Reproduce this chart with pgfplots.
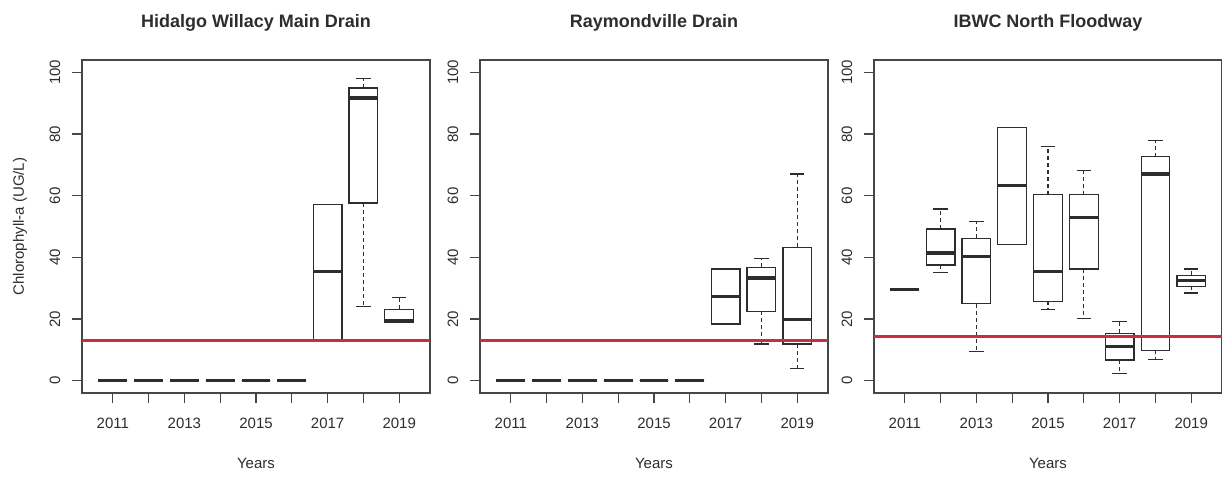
\documentclass[border=0pt]{standalone}
\usepackage{pgfplots}
\pgfplotsset{compat=1.18}
\usepgfplotslibrary{statistics}
\usepackage{fontspec}
\setmainfont{Liberation Sans}

\definecolor{inkgray}{RGB}{45,45,45}
\definecolor{axgray}{RGB}{70,70,70}
\definecolor{refred}{RGB}{200,45,65}

% one box: position, lower whisker, lower quartile, median, upper quartile, upper whisker
\newcommand{\bx}[6]{%
  \addplot[boxplot prepared={draw position=#1, lower whisker=#2,
    lower quartile=#3, median=#4, upper quartile=#5, upper whisker=#6}]
    coordinates {};}

\pgfplotsset{
  panel/.style={
    scale only axis, width=174pt, height=166.5pt,
    xmin=0.14, xmax=9.86, ymin=-4, ymax=104,
    axis line style={axgray, line width=0.55pt},
    tick style={axgray, line width=0.55pt},
    tick align=outside, major tick length=5pt,
    xtick pos=left, ytick pos=left,
    xtick={1,...,9},
    xticklabels={2011,,2013,,2015,,2017,,2019},
    ytick={0,20,40,60,80,100},
    /pgf/number format/assume math mode=true,
    font=\fontsize{7.5}{9}\selectfont,
    tick label style={inkgray, font=\fontsize{7.5}{9}\selectfont},
    xticklabel style={anchor=center, yshift=-10pt},
    yticklabel style={rotate=90, anchor=center, yshift=8.5pt},
    every axis x label/.style={at={(axis description cs:0.5,0)}, anchor=center,
      yshift=-35pt, inkgray, font=\fontsize{7.5}{9}\selectfont},
    xlabel={Years},
    title style={anchor=center, yshift=12.5pt, inkgray,
      font=\fontsize{9}{11}\bfseries\selectfont},
    boxplot/draw direction=y,
    boxplot/box extend=0.8,
    boxplot/whisker extend=0.4,
    boxplot/every median/.style={line width=1.6pt},
    boxplot/draw/lower whisker/.code={%
      \draw[/pgfplots/boxplot/every whisker/.try, dash pattern=on 2pt off 1.5pt]
        (boxplot cs:\pgfplotsboxplotvalue{lower quartile}) --
        (boxplot cs:\pgfplotsboxplotvalue{lower whisker});
      \draw[/pgfplots/boxplot/every whisker/.try]
        (boxplot whisker cs:\pgfplotsboxplotvalue{lower whisker},0) --
        (boxplot whisker cs:\pgfplotsboxplotvalue{lower whisker},1);
    },
    boxplot/draw/upper whisker/.code={%
      \draw[/pgfplots/boxplot/every whisker/.try, dash pattern=on 2pt off 1.5pt]
        (boxplot cs:\pgfplotsboxplotvalue{upper quartile}) --
        (boxplot cs:\pgfplotsboxplotvalue{upper whisker});
      \draw[/pgfplots/boxplot/every whisker/.try]
        (boxplot whisker cs:\pgfplotsboxplotvalue{upper whisker},0) --
        (boxplot whisker cs:\pgfplotsboxplotvalue{upper whisker},1);
    },
    every axis plot/.append style={draw=inkgray, line width=0.6pt, solid},
  },
  guide/.style={draw=refred, line width=1.5pt},
}

\begin{document}
\begin{tikzpicture}[x=1pt,y=1pt]
\path[use as bounding box] (0,0) rectangle (611,238.5);

% ---- Hidalgo Willacy Main Drain ----
\begin{axis}[panel, at={(41pt,42pt)}, anchor=south west,
  title={Hidalgo Willacy Main Drain}]
\bx{1}{0}{0}{0}{0}{0}
\bx{2}{0}{0}{0}{0}{0}
\bx{3}{0}{0}{0}{0}{0}
\bx{4}{0}{0}{0}{0}{0}
\bx{5}{0}{0}{0}{0}{0}
\bx{6}{0}{0}{0}{0}{0}
\bx{7}{13}{13}{35.4}{57.1}{57.1}
\bx{8}{24.0}{57.6}{91.7}{94.9}{98.1}
\bx{9}{19.0}{19.0}{19.5}{23.2}{27.0}
\addplot[guide] coordinates {(0.14,13) (9.86,13)};
\end{axis}

% ---- Raymondville Drain ----
\begin{axis}[panel, at={(240pt,42pt)}, anchor=south west,
  title={Raymondville Drain}]
\bx{1}{0}{0}{0}{0}{0}
\bx{2}{0}{0}{0}{0}{0}
\bx{3}{0}{0}{0}{0}{0}
\bx{4}{0}{0}{0}{0}{0}
\bx{5}{0}{0}{0}{0}{0}
\bx{6}{0}{0}{0}{0}{0}
\bx{7}{18.4}{18.4}{27.2}{36.2}{36.2}
\bx{8}{11.9}{22.5}{33.3}{36.8}{39.7}
\bx{9}{4.0}{11.9}{19.8}{43.2}{67.0}
\addplot[guide] coordinates {(0.14,13) (9.86,13)};
\end{axis}

% ---- IBWC North Floodway ----
\begin{axis}[panel, at={(437pt,42pt)}, anchor=south west,
  title={IBWC North Floodway}]
\bx{1}{29.6}{29.6}{29.6}{29.6}{29.6}
\bx{2}{35.1}{37.5}{41.4}{49.2}{55.7}
\bx{3}{9.4}{24.9}{40.3}{46.2}{51.6}
\bx{4}{44.1}{44.1}{63.3}{82.0}{82.0}
\bx{5}{23.2}{25.7}{35.4}{60.3}{76.0}
\bx{6}{20.2}{36.2}{52.8}{60.3}{68.1}
\bx{7}{2.4}{6.7}{11.0}{15.3}{19.2}
\bx{8}{6.9}{9.9}{67.0}{72.6}{78.0}
\bx{9}{28.4}{30.6}{32.4}{34.2}{36.2}
\addplot[guide] coordinates {(0.14,14.3) (9.86,14.3)};
\end{axis}

\node[rotate=90, text=inkgray, font=\fontsize{7.5}{9}\selectfont]
  at (10pt,125.25pt) {Chlorophyll-a (UG/L)};
\end{tikzpicture}
\end{document}
